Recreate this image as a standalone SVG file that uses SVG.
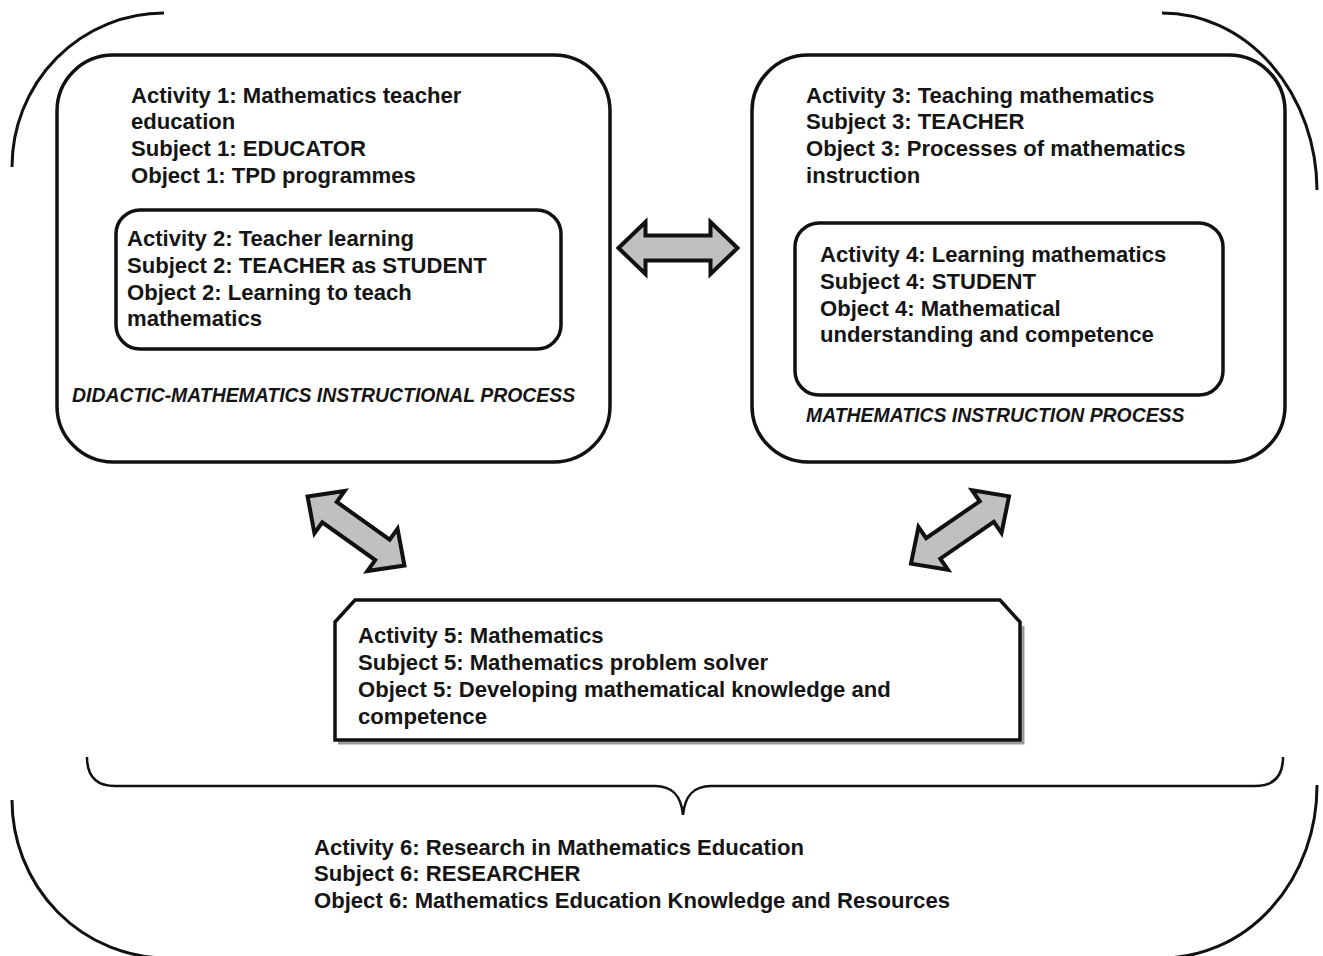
<svg xmlns="http://www.w3.org/2000/svg" width="1323" height="956" viewBox="0 0 1323 956">
<style>
.box{fill:#fff;stroke:#111;stroke-width:3.5}
.frame{fill:none;stroke:#111;stroke-width:3}
.t{font-family:"Liberation Sans",Arial,sans-serif;font-weight:bold;font-size:22.1px;fill:#151515}
.lab{font-family:"Liberation Sans",Arial,sans-serif;font-weight:bold;font-style:italic;font-size:19.4px;fill:#151515}
.arr{fill:#c0c0c0;stroke:#111;stroke-width:4;stroke-linejoin:miter}
</style>
<defs>
<path id="dblArrow" class="arr" d="M -59.5 0 L -32.5 -26 L -32.5 -12.5 L 32.5 -12.5 L 32.5 -26 L 59.5 0 L 32.5 26 L 32.5 12.5 L -32.5 12.5 L -32.5 26 Z"/>
</defs>
<rect width="1323" height="956" fill="#fff"/>
<g id="frame">
<path class="frame" d="M 12 167 A 152 154 0 0 1 164 13"/>
<path class="frame" d="M 1162 13 A 155 178 0 0 1 1317 190"/>
<path class="frame" d="M 12 800 A 155 158 0 0 0 167 958"/>
<path class="frame" d="M 1317 785 A 155 172 0 0 1 1160 958"/>
</g>
<g id="node1">
<rect class="box" x="57" y="55" width="553" height="407" rx="56" ry="56"/>
<text class="t" x="131" y="103">Activity 1: Mathematics teacher</text>
<text class="t" x="131" y="129">education</text>
<text class="t" x="131" y="156">Subject 1: EDUCATOR</text>
<text class="t" x="131" y="183">Object 1: TPD programmes</text>
<text class="lab" x="72" y="402">DIDACTIC-MATHEMATICS INSTRUCTIONAL PROCESS</text>
</g>
<g id="node2">
<rect class="box" x="116" y="210" width="445" height="139" rx="24" ry="24"/>
<text class="t" x="127" y="246">Activity 2: Teacher learning</text>
<text class="t" x="127" y="273">Subject 2: TEACHER as STUDENT</text>
<text class="t" x="127" y="300">Object 2: Learning to teach</text>
<text class="t" x="127" y="326">mathematics</text>
</g>
<g id="node3">
<rect class="box" x="752" y="55" width="533" height="407" rx="56" ry="56"/>
<text class="t" x="806" y="103">Activity 3: Teaching mathematics</text>
<text class="t" x="806" y="129">Subject 3: TEACHER</text>
<text class="t" x="806" y="156">Object 3: Processes of mathematics</text>
<text class="t" x="806" y="183">instruction</text>
<text class="lab" x="806" y="422">MATHEMATICS INSTRUCTION PROCESS</text>
</g>
<g id="node4">
<rect class="box" x="795" y="223" width="428" height="172" rx="24" ry="24"/>
<text class="t" x="820" y="262">Activity 4: Learning mathematics</text>
<text class="t" x="820" y="289">Subject 4: STUDENT</text>
<text class="t" x="820" y="316">Object 4: Mathematical</text>
<text class="t" x="820" y="342">understanding and competence</text>
</g>
<g id="node5">
<path d="M 338 743 L 1023 743 L 1023 626" fill="none" stroke="#999" stroke-width="3"/>
<path class="box" d="M 335 622 L 355 600 L 1000 600 L 1020 622 L 1020 740 L 335 740 Z"/>
<text class="t" x="358" y="643">Activity 5: Mathematics</text>
<text class="t" x="358" y="670">Subject 5: Mathematics problem solver</text>
<text class="t" x="358" y="697">Object 5: Developing mathematical knowledge and</text>
<text class="t" x="358" y="724">competence</text>
</g>
<g id="node6">
<path d="M 87 757 C 87 775 95 786 115 786 L 655 786 C 672 786 681 795 683 815 C 685 795 694 786 711 786 L 1255 786 C 1275 786 1283 775 1283 757" fill="none" stroke="#111" stroke-width="2.5"/>
<text class="t" x="314" y="855">Activity 6: Research in Mathematics Education</text>
<text class="t" x="314" y="881">Subject 6: RESEARCHER</text>
<text class="t" x="314" y="908">Object 6: Mathematics Education Knowledge and Resources</text>
</g>
<g id="connectors">
<use href="#dblArrow" transform="translate(678 248)"/>
<use href="#dblArrow" transform="translate(356 531) rotate(35.5)"/>
<use href="#dblArrow" transform="translate(960 530) rotate(-34.5)"/>
</g>
</svg>
